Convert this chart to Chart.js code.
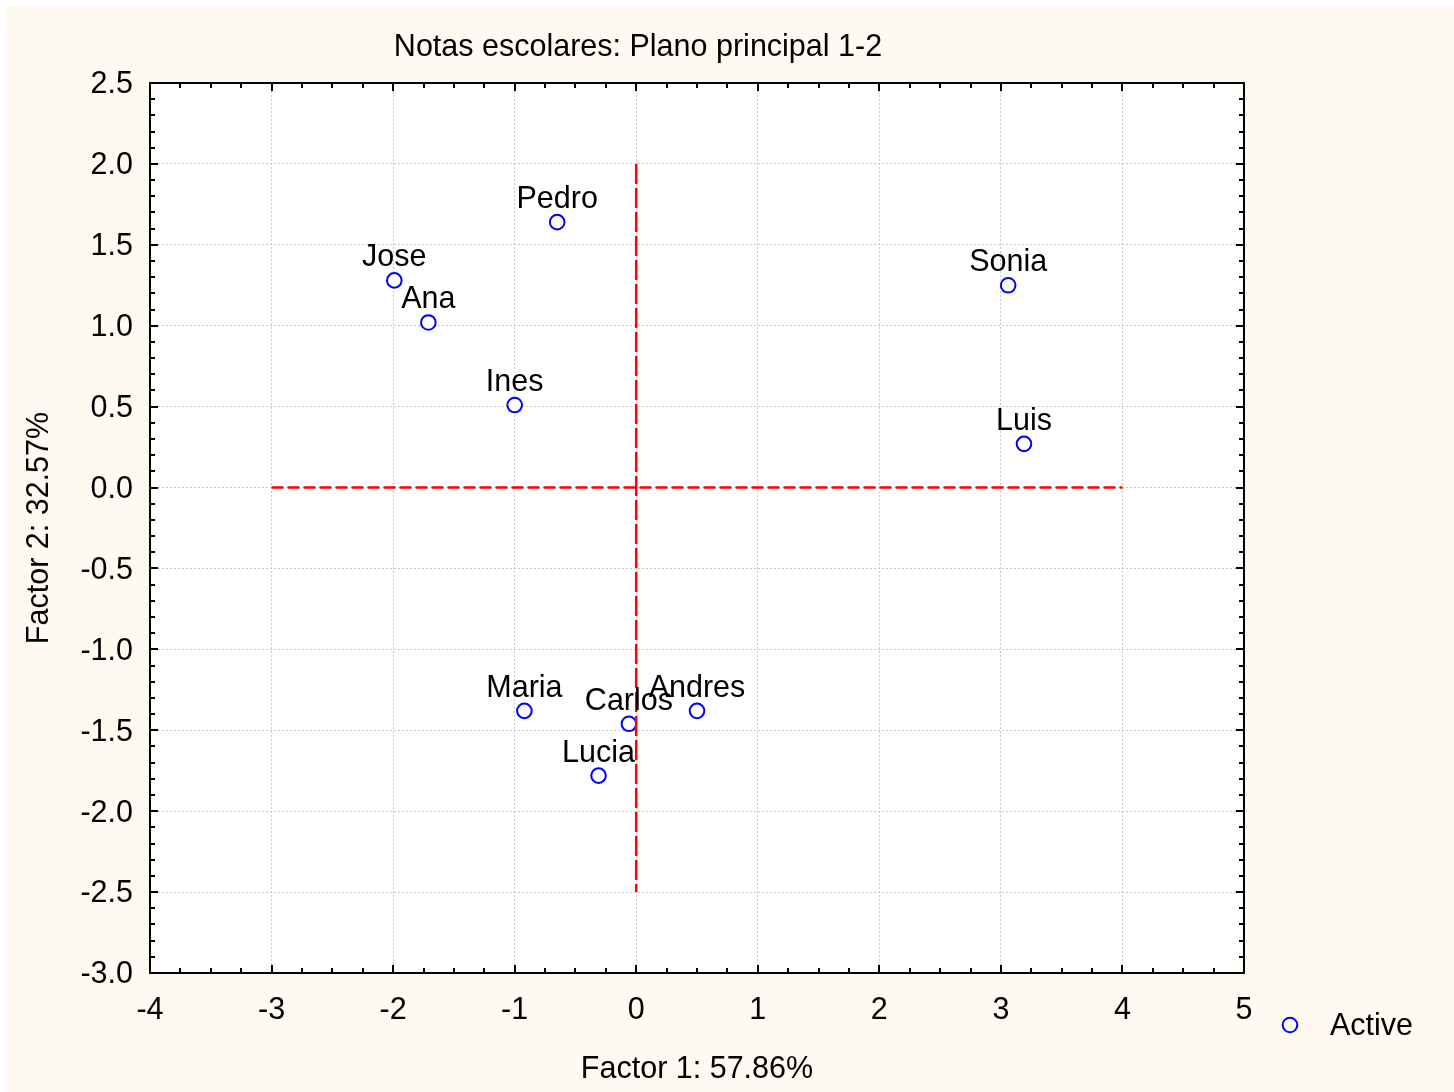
<!DOCTYPE html>
<html>
<head>
<meta charset="utf-8">
<script src="https://cdn.jsdelivr.net/npm/chart.js@4/dist/chart.umd.min.js"></script>
<style>
html,body{margin:0;padding:0;background:#ffffff;}
#wrap{width:1454px;height:1092px;}
</style>
</head>
<body>
<div id="wrap"><canvas id="c" width="1454" height="1092"></canvas></div>
<script>
// ---- data ----
const names   = ['Pedro', 'Jose', 'Ana', 'Ines', 'Sonia', 'Luis', 'Maria', 'Carlos', 'Andres', 'Lucia'];
const factor1 = [-0.65, -1.99, -1.71, -1.00, 3.06, 3.19, -0.92, -0.06, 0.50, -0.31];
const factor2 = [1.64, 1.28, 1.02, 0.51, 1.25, 0.27, -1.38, -1.46, -1.38, -1.78];
const hAxisX = [-3, 4];
const hAxisY = [0, 0];
const vAxisX = [0, 0];
const vAxisY = [2.0, -2.5];
const xTickValues = [-4, -3, -2, -1, 0, 1, 2, 3, 4, 5];
const yTickValues = [-3.0, -2.5, -2.0, -1.5, -1.0, -0.5, 0.0, 0.5, 1.0, 1.5, 2.0, 2.5];
const xMinorStep = 0.25;
const yMinorStep = 0.1;
const chartTitle = 'Notas escolares: Plano principal 1-2';
const xTitle = 'Factor 1: 57.86%';
const yTitle = 'Factor 2: 32.57%';
const seriesName = 'Active';

const FONT = '"Liberation Sans", Arial, Helvetica, sans-serif';
const FS = 30.5;
const CREAM = '#fefaf0';

const pts = names.map((n, i) => ({x: factor1[i], y: factor2[i], label: n}));
const hLine = hAxisX.map((v, i) => ({x: v, y: hAxisY[i]}));
const vLine = vAxisX.map((v, i) => ({x: v, y: vAxisY[i]}));

const bgPlugin = {
  id: 'bg',
  beforeDraw(chart) {
    const {ctx, chartArea: a} = chart;
    ctx.save();
    ctx.fillStyle = '#ffffff';
    ctx.fillRect(0, 0, chart.width, chart.height);
    ctx.fillStyle = CREAM;
    ctx.fillRect(6, 6, chart.width - 6, chart.height - 6);
    ctx.fillStyle = '#ffffff';
    ctx.fillRect(a.left, a.top, a.right - a.left, a.bottom - a.top);
    ctx.restore();
  }
};

const framePlugin = {
  id: 'frame',
  beforeDatasetsDraw(chart) {
    const {ctx, chartArea: a, scales: {x, y}} = chart;
    ctx.save();
    ctx.strokeStyle = '#000';
    ctx.lineWidth = 2;
    ctx.strokeRect(a.left, a.top, a.right - a.left, a.bottom - a.top);
    ctx.beginPath();
    const xMajor = new Set(xTickValues.map(v => v.toFixed(3)));
    const yMajor = new Set(yTickValues.map(v => v.toFixed(3)));
    const nx = Math.round((x.max - x.min) / xMinorStep);
    for (let i = 0; i <= nx; i++) {
      const v = x.min + i * xMinorStep;
      const len = xMajor.has(v.toFixed(3)) ? 8 : 5;
      const px = Math.round(x.getPixelForValue(v));
      ctx.moveTo(px, a.bottom); ctx.lineTo(px, a.bottom - len);
      ctx.moveTo(px, a.top); ctx.lineTo(px, a.top + len);
    }
    const ny = Math.round((y.max - y.min) / yMinorStep);
    for (let i = 0; i <= ny; i++) {
      const v = y.min + i * yMinorStep;
      const len = yMajor.has(v.toFixed(3)) ? 8 : 5;
      const py = Math.round(y.getPixelForValue(v));
      ctx.moveTo(a.left, py); ctx.lineTo(a.left + len, py);
      ctx.moveTo(a.right, py); ctx.lineTo(a.right - len, py);
    }
    ctx.stroke();
    ctx.restore();
  }
};

const textPlugin = {
  id: 'texts',
  afterDatasetsDraw(chart) {
    const {ctx, scales: {x, y}} = chart;
    ctx.save();
    ctx.fillStyle = '#000';
    ctx.font = FS + 'px ' + FONT;
    ctx.textAlign = 'center';
    ctx.textBaseline = 'alphabetic';
    pts.forEach(p => {
      ctx.fillText(p.label, x.getPixelForValue(p.x), y.getPixelForValue(p.y) - 14);
    });
    // chart title
    ctx.textBaseline = 'middle';
    ctx.fillText(chartTitle, 638, 48);
    // legend
    ctx.beginPath();
    ctx.arc(1290, 1025, 7.3, 0, Math.PI * 2);
    ctx.fillStyle = '#ffffff';
    ctx.fill();
    ctx.strokeStyle = '#0000ff';
    ctx.lineWidth = 2;
    ctx.stroke();
    ctx.fillStyle = '#000';
    ctx.textAlign = 'left';
    ctx.fillText(seriesName, 1330, 1027);
    ctx.restore();
  }
};

new Chart(document.getElementById('c'), {
  type: 'scatter',
  data: {
    datasets: [
      {
        label: 'h', data: hLine, showLine: true, pointRadius: 0,
        borderColor: '#ff0000', borderWidth: 2.5, borderDash: [12, 4], fill: false
      },
      {
        label: 'v', data: vLine, showLine: true, pointRadius: 0,
        borderColor: '#ff0000', borderWidth: 2.5, borderDash: [20, 4], fill: false
      },
      {
        label: seriesName, data: pts, pointStyle: 'circle', pointRadius: 7.3,
        borderColor: '#0000ff', backgroundColor: '#ffffff', borderWidth: 2, showLine: false
      }
    ]
  },
  options: {
    responsive: false,
    animation: false,
    devicePixelRatio: 1,
    layout: {padding: {left: 0, top: 83, right: 210, bottom: 0}},
    plugins: {legend: {display: false}, tooltip: {enabled: false}, title: {display: false}},
    scales: {
      x: {
        type: 'linear', min: -4, max: 5,
        afterBuildTicks: s => { s.ticks = xTickValues.map(v => ({value: v})); },
        afterFit: s => { s.height = 119; },
        grid: {color: '#c8c8c8', lineWidth: 1, drawTicks: false},
        border: {display: false, dash: [2, 2]},
        ticks: {
          color: '#000', padding: 19, maxRotation: 0, autoSkip: false,
          font: {family: FONT, size: FS},
          callback: v => String(v)
        },
        title: {display: true, text: xTitle, color: '#000', font: {family: FONT, size: FS}, padding: {top: 0, bottom: 4}}
      },
      y: {
        type: 'linear', min: -3, max: 2.5,
        afterBuildTicks: s => { s.ticks = yTickValues.map(v => ({value: v})); },
        afterFit: s => { s.width = 150; },
        grid: {color: '#c8c8c8', lineWidth: 1, drawTicks: false},
        border: {display: false, dash: [2, 2]},
        ticks: {
          color: '#000', padding: 17, autoSkip: false, labelOffset: 2,
          font: {family: FONT, size: FS},
          callback: v => Number(v).toFixed(1)
        },
        title: {display: true, text: yTitle, color: '#000', font: {family: FONT, size: FS}, padding: {top: 21, bottom: 0}}
      }
    }
  },
  plugins: [bgPlugin, framePlugin, textPlugin]
});
</script>
</body>
</html>
